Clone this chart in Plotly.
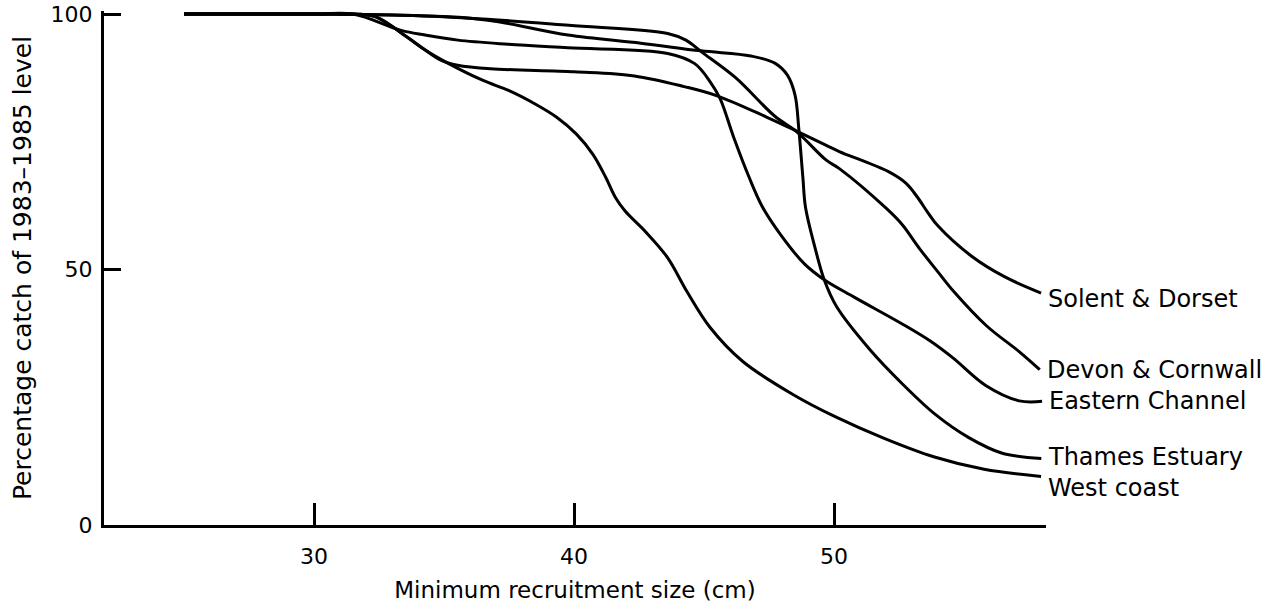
import plotly.graph_objects as go

# Minimum recruitment size (cm) and percentage catch of 1983-1985 level
solent_x = [25.0, 30.0, 31.6, 32.4, 33.6, 34.26, 34.87, 35.52, 36.79, 40.02, 42.32, 44.24, 45.5,
            47.42, 48.56, 49.7, 50.2, 52.11, 52.76, 53.2, 53.6, 54.0, 55.29, 56.55, 57.96]
solent_y = [100, 100, 100, 99.4, 95.4, 93.0, 91.0, 90.0, 89.3, 88.7, 87.9, 85.8, 84.0,
            79.8, 77.1, 74.3, 73.1, 69.1, 66.9, 64.2, 61.2, 58.5, 52.6, 48.6, 45.4]

devon_x = [25.0, 30.0, 33.0, 36.0, 39.8, 43.6, 44.3, 44.9, 46.2, 47.7, 48.6, 49.7, 50.19,
           52.0, 52.6, 53.3, 54.0, 54.62, 55.86, 57.15, 57.91]
devon_y = [100, 100, 99.8, 99.2, 97.8, 96.2, 94.9, 92.6, 87.6, 80.1, 76.8, 71.4, 69.8,
           62.0, 58.9, 54.0, 49.5, 45.6, 39.0, 33.8, 30.4]

eastern_x = [25.0, 30.0, 31.5, 33.35, 34.27, 35.53, 37.46, 39.76, 43.6, 44.64, 45.24, 45.62,
             46.13, 46.72, 47.24, 47.99, 48.86, 49.62, 50.77, 52.67, 53.7, 54.57, 55.83,
             57.12, 58.0]
eastern_y = [100, 100, 100, 96.8, 95.9, 94.9, 94.1, 93.4, 92.3, 90.3, 86.7, 83.4,
             76.0, 68.2, 62.3, 56.5, 51.1, 48.0, 44.6, 39.2, 36.0, 32.7, 27.3,
             24.3, 24.2]

thames_x = [25.0, 30.0, 33.0, 36.0, 37.2, 39.77, 42.57, 44.88, 46.8, 47.72, 48.21, 48.5,
            48.64, 48.8, 48.9, 49.26, 49.62, 50.1, 51.38, 52.63, 53.88, 55.18, 56.44, 57.97]
thames_y = [100, 100, 99.8, 99.2, 98.4, 95.9, 94.3, 92.8, 91.8, 90.4, 88.0, 84.1,
            77.7, 68.0, 62.2, 54.4, 48.0, 42.7, 34.3, 27.6, 21.7, 17.1, 14.1, 13.0]

west_x = [25.0, 30.0, 31.6, 32.4, 33.6, 34.26, 35.14, 36.5, 37.5, 38.57, 39.33, 40.09,
          40.73, 41.22, 41.59, 41.97, 42.73, 43.6, 44.34, 45.24, 46.49, 48.4, 50.04,
          51.95, 53.86, 55.77, 57.96]
west_y = [100, 100, 100, 99.4, 95.4, 93.0, 90.4, 87.0, 85.0, 82.2, 79.8, 76.5,
          72.5, 68.0, 64.1, 61.4, 57.5, 52.3, 45.7, 38.6, 32.0, 25.6, 21.2,
          16.9, 13.3, 10.9, 9.5]

region_names = ["Solent & Dorset", "Devon & Cornwall", "Eastern Channel",
                "Thames Estuary", "West coast"]

x_tick_values = [30, 40, 50]
y_tick_values = [0, 50, 100]
y_tick_labels = ["0", "50", "100"]

series = [
    (region_names[0], solent_x, solent_y),
    (region_names[1], devon_x, devon_y),
    (region_names[2], eastern_x, eastern_y),
    (region_names[3], thames_x, thames_y),
    (region_names[4], west_x, west_y),
]
# vertical pixel nudges for the end labels (style only)
label_shift = {"Solent & Dorset": -6, "Devon & Cornwall": 0, "Eastern Channel": 0,
               "Thames Estuary": 2, "West coast": -12}

FONT = "DejaVu Sans"
fig = go.Figure()
for name, xs, ys in series:
    fig.add_trace(go.Scatter(
        x=xs, y=ys, mode="lines", name=name,
        line=dict(color="black", width=3, shape="spline", smoothing=1.0),
        hoverinfo="x+y+name",
    ))
    fig.add_annotation(
        x=xs[-1], y=ys[-1], xref="x", yref="y", text=name, showarrow=False,
        xanchor="left", yanchor="middle", xshift=5, yshift=label_shift[name],
        font=dict(family=FONT, size=24, color="black"),
    )

# y range runs a hair past 100 so the inside tick at 100 is not clipped at the edge
fig.update_layout(
    width=1285, height=603,
    margin=dict(l=104, r=239, t=11, b=78),
    paper_bgcolor="white", plot_bgcolor="white",
    showlegend=False,
    font=dict(family=FONT, color="black"),
    xaxis=dict(
        range=[21.92, 58.15], showgrid=False, zeroline=False,
        showline=True, linecolor="black", linewidth=3,
        ticks="inside", ticklen=22, tickwidth=2.5, tickcolor="black",
        tickvals=x_tick_values, tickfont=dict(family=FONT, size=22),
        ticklabelstandoff=10,
        title=dict(text="Minimum recruitment size (cm)",
                   font=dict(family=FONT, size=23), standoff=14),
        automargin=False,
    ),
    yaxis=dict(
        range=[0, 100.6], showgrid=False, zeroline=False,
        showline=True, linecolor="black", linewidth=3,
        ticks="inside", ticklen=17, tickwidth=2.5, tickcolor="black",
        tickvals=y_tick_values, ticktext=y_tick_labels,
        tickfont=dict(family=FONT, size=22),
        ticklabelstandoff=4, ticklabeloverflow="allow",
        title=dict(text="Percentage catch of 1983\u20131985 level",
                   font=dict(family=FONT, size=25), standoff=12),
        automargin=False,
    ),
)

# remove the browser's default 8px body margin so the figure fills the window exactly
fig.write_html("out.html", config={"displayModeBar": False},
               post_script="document.body.style.margin='0px';")
